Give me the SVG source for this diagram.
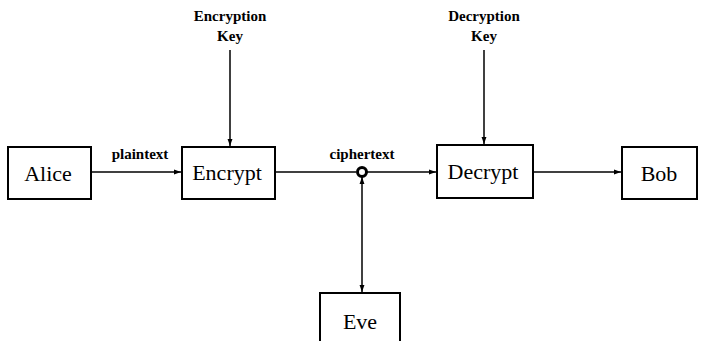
<svg xmlns="http://www.w3.org/2000/svg" width="701" height="341" viewBox="0 0 701 341">
  <style>
    .box { fill: #fff; stroke: #000; stroke-width: 2; }
    .lbl { font-family: "Liberation Serif", serif; font-size: 22px; text-anchor: middle; fill: #000; }
    .small { font-family: "Liberation Serif", serif; font-size: 15px; font-weight: bold; text-anchor: middle; fill: #000; }
    .line { stroke: #000; stroke-width: 1.5; fill: none; }
  </style>
  <defs>
    <marker id="arr" viewBox="0 0 10 10" refX="10" refY="5" markerWidth="7" markerHeight="7" orient="auto-start-reverse" markerUnits="userSpaceOnUse">
      <path d="M0,1.5 L10,5 L0,8.5 z" fill="#000"/>
    </marker>
  </defs>
  <rect width="701" height="341" fill="#fff"/>

  <g id="connectors">
    <line class="line" x1="91" y1="172" x2="181" y2="172" marker-end="url(#arr)"/>
    <line class="line" x1="275" y1="172" x2="356" y2="172"/>
    <line class="line" x1="366" y1="172" x2="436" y2="172" marker-end="url(#arr)"/>
    <line class="line" x1="533" y1="172" x2="621" y2="172" marker-end="url(#arr)"/>
    <line class="line" x1="230" y1="50" x2="230" y2="146" marker-end="url(#arr)"/>
    <line class="line" x1="484" y1="50" x2="484" y2="144" marker-end="url(#arr)"/>
    <line class="line" x1="362" y1="177" x2="362" y2="292" marker-start="url(#arr)" marker-end="url(#arr)"/>
    <circle cx="362" cy="172" r="4.5" fill="#fff" stroke="#000" stroke-width="3"/>
    <text class="small" x="140" y="159">plaintext</text>
    <text class="small" x="362" y="159">ciphertext</text>
  </g>

  <g id="alice">
    <rect class="box" x="8" y="147" width="83" height="52"/>
    <text class="lbl" x="48" y="181">Alice</text>
  </g>
  <g id="encrypt">
    <rect class="box" x="182" y="147" width="93" height="52"/>
    <text class="lbl" x="227" y="180">Encrypt</text>
  </g>
  <g id="decrypt">
    <rect class="box" x="437" y="145" width="96" height="53"/>
    <text class="lbl" x="483" y="179">Decrypt</text>
  </g>
  <g id="bob">
    <rect class="box" x="622" y="147" width="75" height="52"/>
    <text class="lbl" x="659" y="181">Bob</text>
  </g>
  <g id="eve">
    <rect class="box" x="320" y="293" width="80" height="56"/>
    <text class="lbl" x="360" y="329">Eve</text>
  </g>
  <g id="encryption-key">
    <text class="small" x="230" y="21">Encryption</text>
    <text class="small" x="230" y="41">Key</text>
  </g>
  <g id="decryption-key">
    <text class="small" x="484" y="21">Decryption</text>
    <text class="small" x="484" y="41">Key</text>
  </g>
</svg>
